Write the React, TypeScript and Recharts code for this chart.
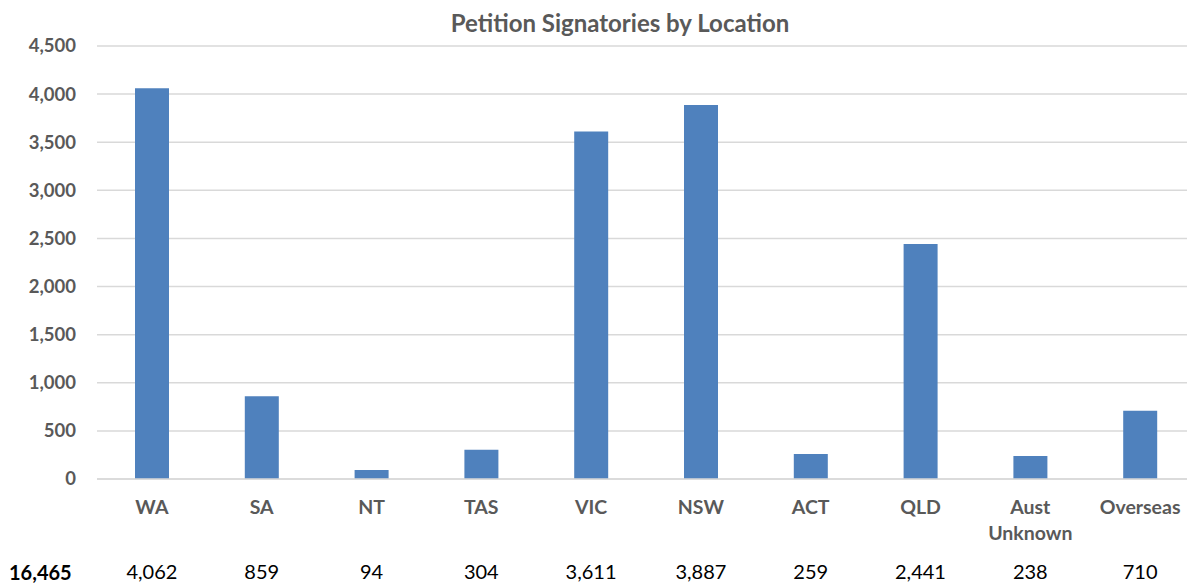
import React from "react";
import { BarChart, Bar, XAxis, YAxis, CartesianGrid } from "recharts";

const categories = ["WA", "SA", "NT", "TAS", "VIC", "NSW", "ACT", "QLD", "Aust Unknown", "Overseas"];
const signatories = [4062, 859, 94, 304, 3611, 3887, 259, 2441, 238, 710];
const yTicks = [0, 500, 1000, 1500, 2000, 2500, 3000, 3500, 4000, 4500];

const data = categories.map((name, i) => ({ name, value: signatories[i] }));
const total = signatories.reduce((a, b) => a + b, 0);

const FONT = "Lato, 'Open Sans', sans-serif";
const GREY = "#595959";
const fmt = (n: number) => n.toLocaleString("en-US");

function CategoryTick(props: any) {
  const { x, y, payload, index } = props;
  const label: string = payload.value;
  const lines = label.length > 9 ? label.split(" ") : [label];
  return (
    <g>
      {lines.map((line, i) => (
        <text
          key={i}
          x={x}
          y={y + 27 + i * 26}
          textAnchor="middle"
          fill={GREY}
          fontFamily={FONT}
          fontWeight={700}
          fontSize={19.5}
        >
          {line}
        </text>
      ))}
      <text x={x} y={y + 92} textAnchor="middle" fill="#000" fontFamily={FONT} fontSize={20}>
        {fmt(signatories[index])}
      </text>
    </g>
  );
}

function ValueTick(props: any) {
  const { y, payload } = props;
  return (
    <text
      x={76}
      y={y}
      dy="0.35em"
      textAnchor="end"
      fill={GREY}
      fontFamily={FONT}
      fontWeight={700}
      fontSize={18.5}
    >
      {fmt(payload.value)}
    </text>
  );
}

export default function App() {
  return (
    <div
      style={{
        position: "fixed",
        left: 0,
        top: 0,
        width: 1187,
        height: 583,
        overflow: "hidden",
        background: "#fff",
      }}
    >
      <div
        style={{
          position: "absolute",
          left: 0,
          top: 7,
          width: 1240,
          textAlign: "center",
          fontFamily: FONT,
          fontWeight: 700,
          fontSize: 24,
          color: GREY,
          lineHeight: "32px",
        }}
      >
        Petition Signatories by Location
      </div>
      <BarChart
        width={1200}
        height={583}
        data={data}
        margin={{ top: 46, right: 5, left: 0, bottom: 0 }}
        barSize={34}
      >
        <CartesianGrid vertical={false} stroke="#d9d9d9" strokeWidth={1.5} />
        <XAxis
          dataKey="name"
          axisLine={{ stroke: "#d9d9d9", strokeWidth: 1.5 }}
          tickLine={false}
          height={104}
          interval={0}
          tick={<CategoryTick />}
        />
        <YAxis
          width={97}
          domain={[0, 4500]}
          ticks={yTicks}
          axisLine={false}
          tickLine={false}
          tick={<ValueTick />}
        />
        <Bar dataKey="value" fill="#4F81BD" isAnimationActive={false} />
      </BarChart>
      <div
        style={{
          position: "absolute",
          left: 9,
          top: 562,
          fontFamily: FONT,
          fontWeight: 700,
          fontSize: 20,
          color: "#000",
          lineHeight: "20px",
        }}
      >
        {fmt(total)}
      </div>
    </div>
  );
}
